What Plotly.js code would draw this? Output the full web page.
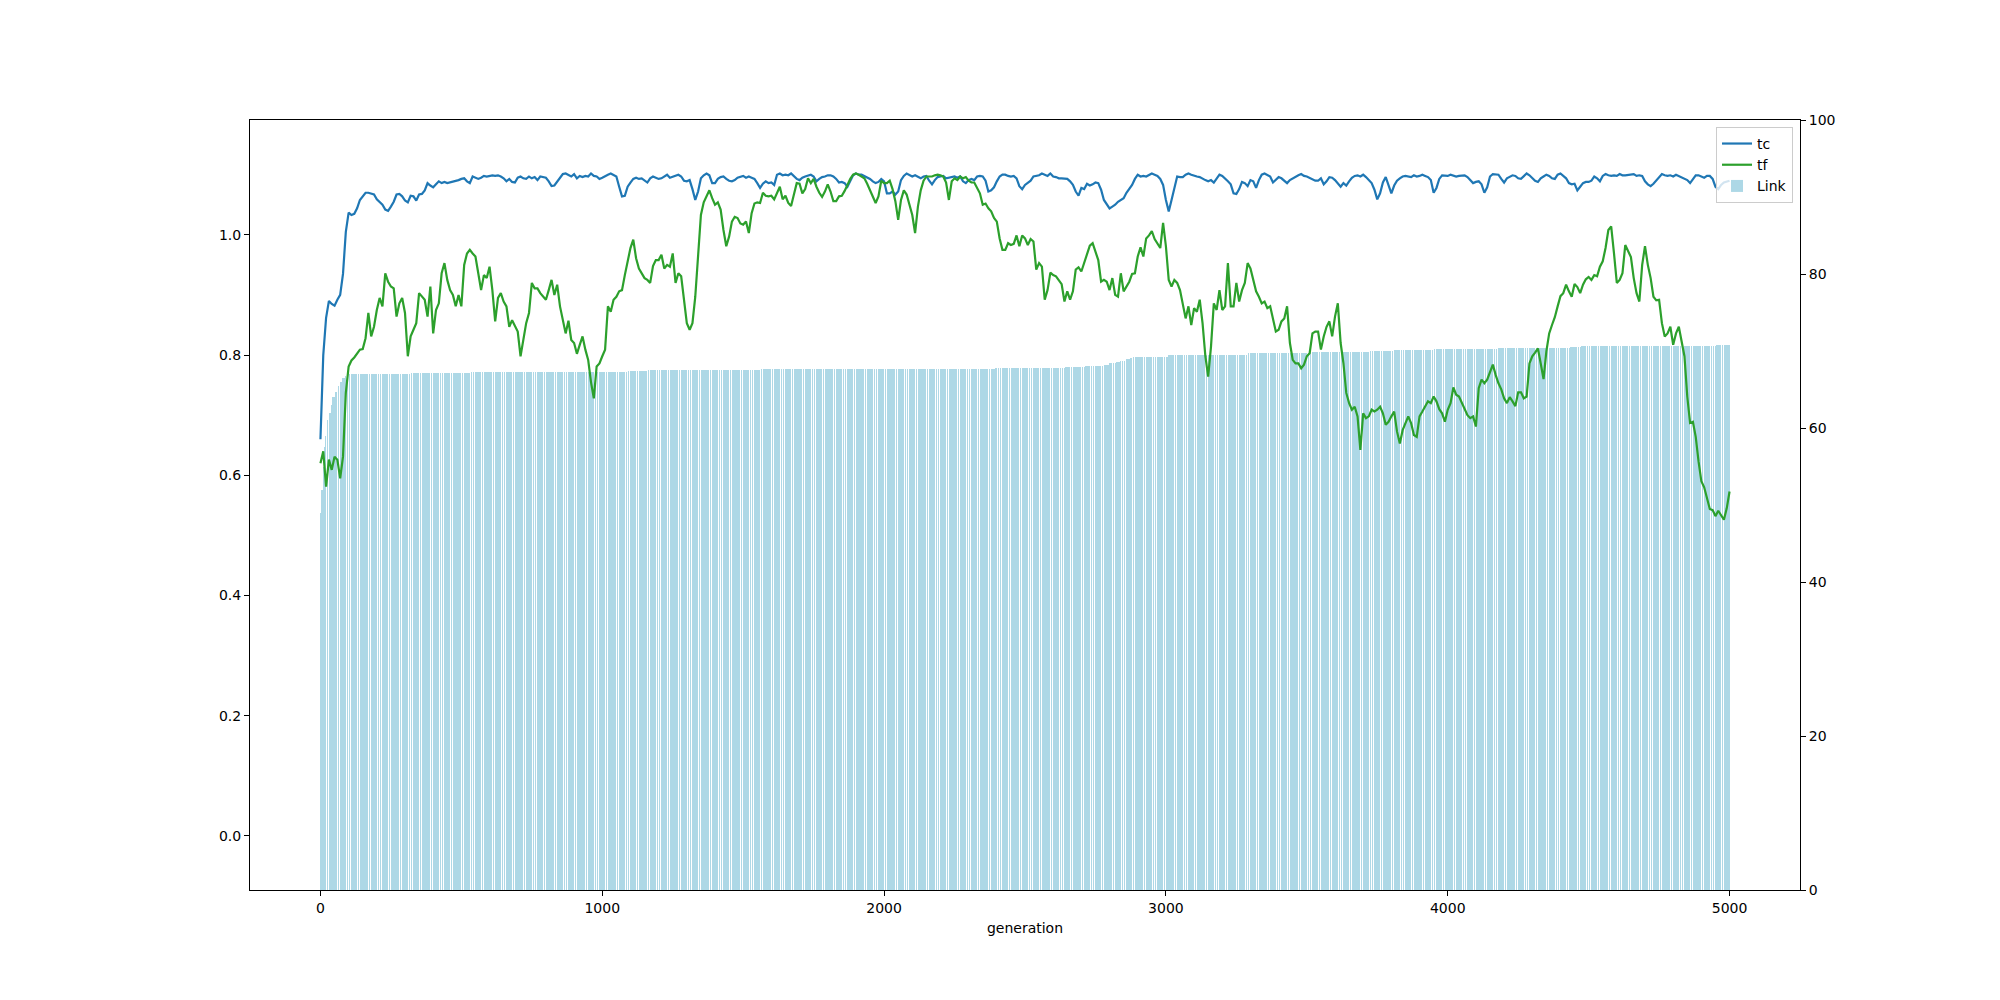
<!DOCTYPE html>
<html>
<head>
<meta charset="utf-8">
<script src="https://cdn.plot.ly/plotly-3.0.1.min.js"></script>
<style>
  html, body { margin: 0; padding: 0; background: #fff; }
  #chart { width: 2000px; height: 1000px; }
</style>
</head>
<body>
<div id="chart"></div>
<script>
// sampled every 10 generations, 0 .. 5000
const sample_step = 10;

const tc = [
  0.660, 0.800, 0.862, 0.890, 0.885, 0.882, 0.892, 0.900, 0.935, 1.005,
  1.037, 1.033, 1.035, 1.044, 1.058, 1.064, 1.070, 1.070, 1.069, 1.067,
  1.059, 1.054, 1.050, 1.042, 1.040, 1.047, 1.055, 1.067, 1.068, 1.064,
  1.057, 1.054, 1.065, 1.064, 1.057, 1.067, 1.068, 1.074, 1.086, 1.082,
  1.079, 1.084, 1.089, 1.086, 1.088, 1.086, 1.087, 1.089, 1.090, 1.091,
  1.093, 1.094, 1.089, 1.086, 1.097, 1.095, 1.093, 1.095, 1.098, 1.097,
  1.098, 1.099, 1.098, 1.099, 1.097, 1.094, 1.089, 1.093, 1.088, 1.087,
  1.095, 1.097, 1.094, 1.093, 1.097, 1.094, 1.096, 1.091, 1.097, 1.096,
  1.095, 1.089, 1.081, 1.082, 1.088, 1.096, 1.101, 1.102, 1.100, 1.097,
  1.101, 1.094, 1.098, 1.096, 1.098, 1.097, 1.102, 1.098, 1.097, 1.093,
  1.095, 1.098, 1.100, 1.102, 1.100, 1.097, 1.080, 1.064, 1.065, 1.080,
  1.087, 1.093, 1.095, 1.093, 1.094, 1.090, 1.087, 1.094, 1.097, 1.095,
  1.093, 1.094, 1.097, 1.100, 1.095, 1.097, 1.099, 1.100, 1.097, 1.090,
  1.089, 1.091, 1.076, 1.058, 1.072, 1.094, 1.099, 1.102, 1.099, 1.086,
  1.086, 1.093, 1.096, 1.097, 1.093, 1.090, 1.089, 1.091, 1.095, 1.097,
  1.098, 1.095, 1.097, 1.095, 1.093, 1.086, 1.078, 1.085, 1.089, 1.086,
  1.087, 1.083, 1.100, 1.102, 1.099, 1.100, 1.099, 1.102, 1.098, 1.093,
  1.091, 1.095, 1.097, 1.099, 1.100, 1.097, 1.089, 1.093, 1.096, 1.097,
  1.099, 1.099, 1.097, 1.093, 1.087, 1.088, 1.086, 1.080, 1.090, 1.099,
  1.102, 1.100, 1.100, 1.098, 1.096, 1.093, 1.089, 1.086, 1.088, 1.093,
  1.089, 1.069, 1.069, 1.072, 1.067, 1.072, 1.091, 1.098, 1.102, 1.100,
  1.097, 1.099, 1.096, 1.094, 1.097, 1.098, 1.090, 1.084, 1.091, 1.096,
  1.097, 1.098, 1.094, 1.095, 1.097, 1.097, 1.095, 1.097, 1.089, 1.086,
  1.091, 1.093, 1.091, 1.097, 1.098, 1.097, 1.090, 1.072, 1.074, 1.079,
  1.089, 1.097, 1.100, 1.100, 1.098, 1.097, 1.098, 1.094, 1.081, 1.076,
  1.083, 1.087, 1.090, 1.097, 1.098, 1.099, 1.102, 1.100, 1.098, 1.102,
  1.097, 1.096, 1.094, 1.094, 1.094, 1.093, 1.089, 1.083, 1.072, 1.065,
  1.078, 1.076, 1.085, 1.082, 1.084, 1.087, 1.086, 1.075, 1.058, 1.050,
  1.044, 1.047, 1.050, 1.055, 1.058, 1.061, 1.070, 1.076, 1.083, 1.093,
  1.100, 1.097, 1.098, 1.097, 1.099, 1.102, 1.100, 1.098, 1.093, 1.083,
  1.058, 1.039, 1.058, 1.080, 1.097, 1.096, 1.096, 1.100, 1.102, 1.100,
  1.098, 1.097, 1.096, 1.093, 1.091, 1.089, 1.091, 1.087, 1.094, 1.100,
  1.098, 1.094, 1.089, 1.084, 1.069, 1.068, 1.076, 1.088, 1.086, 1.081,
  1.091, 1.089, 1.078, 1.091, 1.100, 1.102, 1.099, 1.097, 1.087, 1.091,
  1.096, 1.094, 1.090, 1.086, 1.091, 1.094, 1.096, 1.099, 1.101, 1.098,
  1.097, 1.095, 1.093, 1.090, 1.090, 1.094, 1.084, 1.089, 1.096, 1.095,
  1.091, 1.086, 1.080, 1.086, 1.082, 1.089, 1.095, 1.098, 1.099, 1.097,
  1.100, 1.096, 1.091, 1.086, 1.075, 1.059, 1.069, 1.087, 1.096, 1.082,
  1.069, 1.082, 1.090, 1.094, 1.097, 1.098, 1.097, 1.096, 1.099, 1.097,
  1.098, 1.100, 1.098, 1.096, 1.091, 1.070, 1.078, 1.093, 1.099, 1.099,
  1.098, 1.100, 1.099, 1.097, 1.098, 1.099, 1.099, 1.096, 1.091, 1.086,
  1.088, 1.089, 1.084, 1.070, 1.079, 1.097, 1.101, 1.100, 1.100, 1.093,
  1.087, 1.094, 1.097, 1.099, 1.098, 1.094, 1.093, 1.097, 1.102, 1.099,
  1.095, 1.090, 1.088, 1.094, 1.097, 1.100, 1.098, 1.094, 1.093, 1.100,
  1.102, 1.098, 1.094, 1.086, 1.084, 1.085, 1.074, 1.080, 1.086, 1.088,
  1.088, 1.090, 1.097, 1.094, 1.089, 1.098, 1.101, 1.099, 1.098, 1.099,
  1.098, 1.101, 1.099, 1.099, 1.100, 1.100, 1.101, 1.098, 1.099, 1.098,
  1.089, 1.084, 1.081, 1.085, 1.091, 1.097, 1.101, 1.099, 1.098, 1.099,
  1.097, 1.100, 1.098, 1.096, 1.094, 1.091, 1.086, 1.093, 1.099, 1.099,
  1.097, 1.095, 1.098, 1.098, 1.093, 1.080, 1.076, 1.083, 1.087, 1.089,
  1.090
];

const tf = [
  0.620, 0.640, 0.581, 0.626, 0.609, 0.631, 0.626, 0.595, 0.631, 0.737,
  0.781, 0.791, 0.796, 0.803, 0.809, 0.810, 0.828, 0.870, 0.831, 0.847,
  0.875, 0.895, 0.881, 0.936, 0.922, 0.914, 0.911, 0.864, 0.886, 0.895,
  0.870, 0.798, 0.831, 0.842, 0.853, 0.903, 0.897, 0.892, 0.864, 0.914,
  0.836, 0.875, 0.886, 0.936, 0.953, 0.925, 0.908, 0.900, 0.881, 0.900,
  0.881, 0.950, 0.969, 0.975, 0.969, 0.964, 0.936, 0.908, 0.933, 0.928,
  0.947, 0.908, 0.856, 0.895, 0.903, 0.889, 0.881, 0.847, 0.858, 0.847,
  0.839, 0.798, 0.825, 0.853, 0.870, 0.920, 0.911, 0.911, 0.903, 0.897,
  0.892, 0.908, 0.925, 0.900, 0.917, 0.881, 0.861, 0.836, 0.857, 0.825,
  0.820, 0.802, 0.817, 0.831, 0.809, 0.792, 0.755, 0.728, 0.781, 0.786,
  0.798, 0.809, 0.881, 0.872, 0.892, 0.897, 0.906, 0.908, 0.933, 0.953,
  0.978, 0.992, 0.961, 0.944, 0.936, 0.928, 0.925, 0.920, 0.948, 0.958,
  0.958, 0.967, 0.944, 0.950, 0.947, 0.969, 0.920, 0.936, 0.931, 0.886,
  0.853, 0.842, 0.853, 0.897, 0.969, 1.033, 1.054, 1.064, 1.074, 1.061,
  1.050, 1.054, 1.042, 1.008, 0.981, 0.997, 1.022, 1.030, 1.028, 1.019,
  1.017, 1.022, 1.003, 1.036, 1.052, 1.054, 1.053, 1.070, 1.065, 1.064,
  1.065, 1.059, 1.069, 1.080, 1.059, 1.065, 1.053, 1.048, 1.067, 1.086,
  1.085, 1.069, 1.076, 1.094, 1.086, 1.093, 1.080, 1.070, 1.063, 1.072,
  1.084, 1.072, 1.056, 1.056, 1.064, 1.065, 1.073, 1.084, 1.093, 1.100,
  1.102, 1.100, 1.097, 1.094, 1.085, 1.075, 1.065, 1.053, 1.064, 1.090,
  1.086, 1.086, 1.090, 1.076, 1.056, 1.025, 1.058, 1.074, 1.067, 1.052,
  1.033, 1.003, 1.047, 1.074, 1.090, 1.097, 1.097, 1.097, 1.099, 1.100,
  1.099, 1.097, 1.087, 1.058, 1.089, 1.094, 1.091, 1.097, 1.094, 1.096,
  1.090, 1.087, 1.087, 1.079, 1.069, 1.050, 1.052, 1.044, 1.039, 1.028,
  1.022, 0.994, 0.975, 0.975, 0.986, 0.983, 0.985, 0.999, 0.981, 0.999,
  0.994, 0.983, 0.993, 0.989, 0.942, 0.953, 0.947, 0.892, 0.908, 0.937,
  0.933, 0.931, 0.924, 0.918, 0.889, 0.906, 0.892, 0.906, 0.942, 0.946,
  0.939, 0.953, 0.965, 0.982, 0.986, 0.972, 0.958, 0.922, 0.925, 0.922,
  0.908, 0.928, 0.900, 0.897, 0.936, 0.906, 0.914, 0.922, 0.935, 0.936,
  0.964, 0.979, 0.964, 0.994, 0.999, 1.006, 0.993, 0.986, 0.978, 1.020,
  0.981, 0.925, 0.914, 0.925, 0.920, 0.908, 0.884, 0.861, 0.881, 0.850,
  0.878, 0.872, 0.892, 0.853, 0.798, 0.764, 0.814, 0.886, 0.875, 0.908,
  0.875, 0.881, 0.953, 0.881, 0.881, 0.920, 0.889, 0.908, 0.920, 0.953,
  0.944, 0.925, 0.906, 0.897, 0.886, 0.889, 0.878, 0.881, 0.858, 0.839,
  0.842, 0.856, 0.861, 0.881, 0.820, 0.792, 0.786, 0.786, 0.778, 0.784,
  0.798, 0.803, 0.836, 0.839, 0.839, 0.809, 0.831, 0.847, 0.856, 0.831,
  0.864, 0.886, 0.820, 0.786, 0.737, 0.720, 0.709, 0.714, 0.698, 0.642,
  0.703, 0.695, 0.698, 0.709, 0.706, 0.709, 0.714, 0.703, 0.684, 0.689,
  0.698, 0.706, 0.673, 0.653, 0.675, 0.687, 0.698, 0.687, 0.667, 0.664,
  0.698, 0.706, 0.714, 0.723, 0.720, 0.731, 0.723, 0.710, 0.703, 0.689,
  0.709, 0.720, 0.746, 0.734, 0.731, 0.720, 0.710, 0.700, 0.695, 0.698,
  0.681, 0.745, 0.759, 0.753, 0.759, 0.770, 0.784, 0.767, 0.753, 0.743,
  0.728, 0.720, 0.730, 0.723, 0.715, 0.738, 0.738, 0.728, 0.731, 0.786,
  0.798, 0.804, 0.811, 0.786, 0.760, 0.806, 0.836, 0.850, 0.863, 0.881,
  0.898, 0.903, 0.917, 0.906, 0.897, 0.918, 0.913, 0.903, 0.917, 0.926,
  0.930, 0.925, 0.933, 0.931, 0.947, 0.956, 0.978, 1.008, 1.014, 0.969,
  0.920, 0.925, 0.936, 0.983, 0.972, 0.963, 0.928, 0.903, 0.889, 0.950,
  0.981, 0.950, 0.928, 0.897, 0.891, 0.892, 0.853, 0.831, 0.836, 0.847,
  0.817, 0.836, 0.847, 0.821, 0.798, 0.731, 0.687, 0.689, 0.664, 0.623,
  0.590, 0.580, 0.563, 0.544, 0.542, 0.532, 0.541, 0.534, 0.526, 0.545,
  0.573
];

// Link level per generation, as runs: level holds from its start generation
const link_start = [0, 3, 8, 13, 18, 25, 31, 37, 43, 51, 59, 67, 77, 89, 101,
  318, 536, 1087, 1163, 1560, 2393, 2642, 2713, 2778, 2800, 2825, 2837, 2855,
  2873, 2884, 3009, 3287, 3511, 3724, 3807, 3949, 4180, 4434, 4475, 4954];
const link_level = [49, 52, 55, 57.5, 59, 61, 62, 63, 64, 64.7, 65.4, 66, 66.5, 66.8, 67.0,
  67.2, 67.3, 67.4, 67.5, 67.7, 67.8, 67.9, 68.05, 68.2, 68.4, 68.6, 68.75, 68.9,
  69.1, 69.2, 69.5, 69.8, 69.9, 70.0, 70.1, 70.25, 70.4, 70.5, 70.65, 70.8];
const last_generation = 5000;

const line_gen = tc.map((_, i) => i * sample_step);

let bar_gen = [];
let bar_link = [];
let run = 0;
for (let g = 0; g <= last_generation; g++) {
  while (run + 1 < link_start.length && link_start[run + 1] <= g) run++;
  bar_gen.push(g);
  bar_link.push(link_level[run]);
}

const axis_common = {
  ticks: "outside",
  ticklen: 5,
  tickwidth: 1,
  tickcolor: "black",
  showline: true,
  linecolor: "black",
  linewidth: 1,
  showgrid: false,
  zeroline: false,
  tickfont: {size: 14, color: "black"}
};

const chart_layout = {
  width: 2000,
  height: 1000,
  margin: {l: 250, r: 200, t: 120, b: 110, pad: 0},
  paper_bgcolor: "white",
  plot_bgcolor: "white",
  font: {family: "DejaVu Sans, sans-serif", size: 14, color: "black"},
  bargap: 0,
  bargroupgap: 0,
  showlegend: true,
  legend: {
    x: 0.9955, xanchor: "right",
    y: 0.991, yanchor: "top",
    bgcolor: "rgba(255,255,255,0.8)",
    bordercolor: "#cccccc",
    borderwidth: 1,
    font: {size: 14},
    tracegroupgap: 0
  },
  xaxis: Object.assign({}, axis_common, {
    range: [-250, 5250],
    tick0: 0,
    dtick: 1000,
    mirror: true,
    title: {text: "generation", font: {size: 14}, standoff: 8}
  }),
  // right axis: Link bars
  yaxis: Object.assign({}, axis_common, {
    side: "right",
    range: [0, 100],
    tick0: 0,
    dtick: 20
  }),
  // left axis: tc / tf lines, drawn above the bars
  yaxis2: Object.assign({}, axis_common, {
    overlaying: "y",
    side: "left",
    range: [-0.0899, 1.191],
    tick0: 0,
    dtick: 0.2,
    tickformat: ".1f"
  })
};

const chart_data = [
  {
    type: "scatter", mode: "lines", name: "tc",
    x: line_gen, y: tc, xaxis: "x", yaxis: "y2",
    line: {color: "#1f77b4", width: 2.2},
    hoverinfo: "skip"
  },
  {
    type: "scatter", mode: "lines", name: "tf",
    x: line_gen, y: tf, xaxis: "x", yaxis: "y2",
    line: {color: "#2ca02c", width: 2.2},
    hoverinfo: "skip"
  },
  {
    type: "bar", name: "Link",
    x: bar_gen, y: bar_link, xaxis: "x", yaxis: "y",
    width: 0.8,
    marker: {color: "rgba(173,216,230,0.999)", line: {width: 0}},
    hoverinfo: "skip"
  }
];

Plotly.newPlot("chart", chart_data, chart_layout, {displayModeBar: false, responsive: false});
</script>
</body>
</html>
